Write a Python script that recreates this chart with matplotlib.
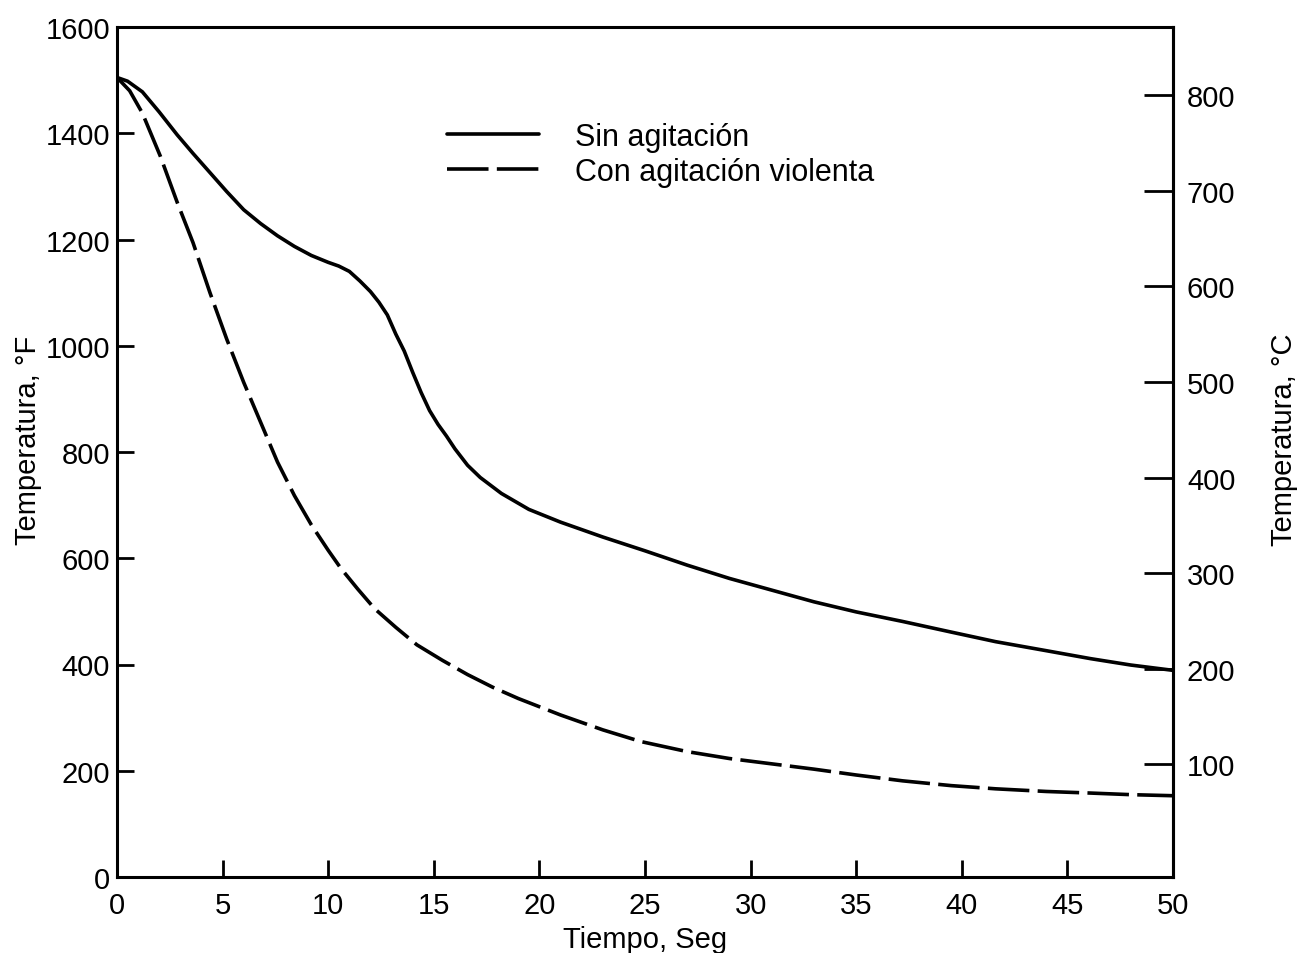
#!/usr/bin/env python3
"""Cooling curves of a quenched steel bar: still bath vs. violent agitation.

Left axis in degrees Fahrenheit, right axis repeats the scale in Celsius.
Output: out.png
"""
import matplotlib

matplotlib.use("Agg")

import matplotlib.pyplot as plt  # noqa: E402

plt.rcParams["font.family"] = ["Liberation Sans", "DejaVu Sans"]

# time (s) and temperature (°F), no agitation
T_SIN = [0, 0.5, 1.2, 2.0, 2.85, 3.6, 4.4, 5.2, 6.0, 6.8, 7.6, 8.4, 9.2,
         10.0, 10.5, 11.0, 11.5, 12.0, 12.4, 12.8, 13.2, 13.6, 14.0, 14.4,
         14.8, 15.2, 15.6, 16.0, 16.6, 17.2, 18.2, 19.5, 21.0, 23.0, 25.0,
         27.0, 29.0, 31.0, 33.0, 35.0, 37.2, 39.5, 41.6, 44.0, 46.1, 48.0,
         50.0]
F_SIN = [1505, 1498, 1478, 1440, 1397, 1362, 1326, 1290, 1256, 1230, 1207,
         1187, 1170, 1157, 1150, 1140, 1122, 1102, 1082, 1058, 1022, 990,
         950, 912, 878, 852, 830, 806, 775, 752, 722, 692, 668, 640, 614,
         587, 562, 540, 518, 499, 481, 461, 443, 426, 411, 399, 389]

# time (s) and temperature (°F), violent agitation
T_CON = [0, 0.6, 1.2, 2.05, 2.85, 3.6, 4.4, 5.2, 6.0, 6.8, 7.6, 8.4, 9.2,
         10.0, 10.6, 11.4, 12.2, 13.2, 14.2, 15.4, 16.6, 17.8, 19.0, 21.0,
         23.0, 24.8, 27.0, 29.0, 31.0, 33.0, 35.0, 37.2, 39.5, 41.6, 44.0,
         46.1, 48.0, 50.0]
F_CON = [1505, 1480, 1438, 1357, 1270, 1194, 1100, 1012, 931, 856, 781, 718,
         663, 615, 581, 542, 505, 470, 437, 408, 381, 357, 336, 305, 277,
         255, 236, 223, 213, 203, 192, 181, 172, 166, 161, 158, 155, 153]

X_TICKS = list(range(0, 51, 5))
F_TICKS = list(range(0, 1601, 200))
C_TICKS = list(range(100, 801, 100))

LABEL_SIN = "Sin agitación"
LABEL_CON = "Con agitación violenta"

FS = 21
LW = 2.6


def f_to_c(f):
    return (f - 32.0) * 5.0 / 9.0


def c_to_f(c):
    return c * 9.0 / 5.0 + 32.0


def main():
    W, H = 1298, 954
    fig = plt.figure(figsize=(W / 100, H / 100), dpi=100)
    ax = fig.add_axes([117 / W, 1 - 878 / H, (1173 - 117) / W, (878 - 28) / H])

    ln_sin, = ax.plot(T_SIN, F_SIN, color="black", lw=LW, label=LABEL_SIN,
                      solid_capstyle="round", solid_joinstyle="round")
    ln_con, = ax.plot(T_CON, F_CON, color="black", lw=LW, label=LABEL_CON,
                      dashes=(11.5, 2.3))

    ax.set_xlim(0, 50)
    ax.set_ylim(0, 1600)
    ax.set_xticks(X_TICKS)
    ax.set_yticks(F_TICKS)
    for sp in ax.spines.values():
        sp.set_linewidth(2.2)
    ax.tick_params(axis="x", direction="in", length=12, width=2, pad=10,
                   labelsize=FS)
    ax.tick_params(axis="y", direction="in", length=12, width=2, pad=5,
                   labelsize=FS)

    # Celsius scale on the right
    sec = ax.secondary_yaxis("right", functions=(f_to_c, c_to_f))
    sec.set_yticks(C_TICKS)
    sec.tick_params(direction="in", length=21, width=2, pad=10, labelsize=FS)
    sec.spines["right"].set_linewidth(2.2)

    fig.text(645 / W, 1 - 940 / H, "Tiempo, Seg", ha="center", va="center",
             fontsize=FS)
    fig.text(28 / W, 1 - 440 / H, "Temperatura, °F", ha="center",
             va="center", rotation=90, fontsize=FS)
    fig.text(1284 / W, 1 - 440 / H, "Temperatura, °C", ha="center",
             va="center", rotation=90, fontsize=FS)

    ax.legend(handles=[ln_sin, ln_con], loc="upper left",
              bbox_to_anchor=(447 / W, 1 - 123 / H),
              bbox_transform=fig.transFigure, frameon=False, fontsize=22,
              handlelength=3.0, handletextpad=1.2, labelspacing=0.15,
              borderaxespad=0, borderpad=0)

    fig.savefig("out.png", dpi=100, facecolor="white")
    plt.close(fig)


if __name__ == "__main__":
    main()
